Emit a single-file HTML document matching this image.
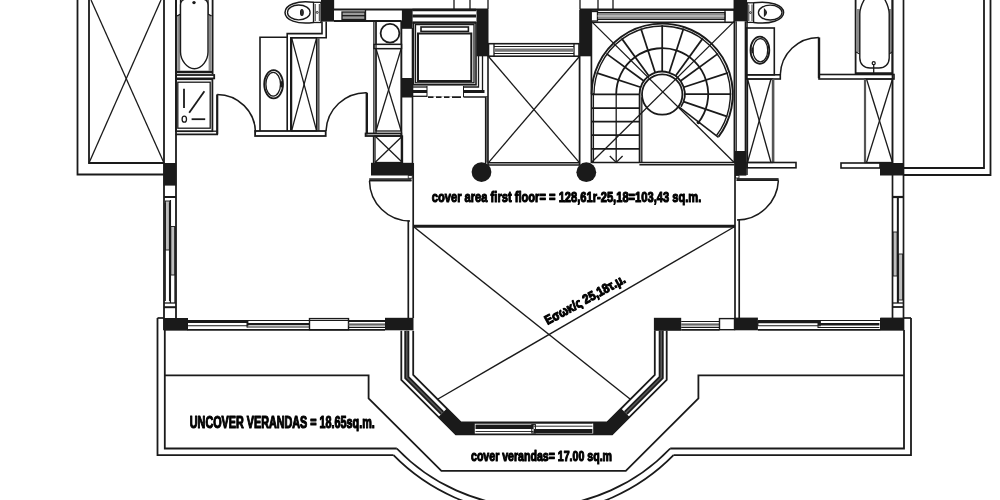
<!DOCTYPE html>
<html><head><meta charset="utf-8"><style>
html,body{margin:0;padding:0;background:#fff;width:1000px;height:500px;overflow:hidden;}
svg{display:block;filter:grayscale(1);}
</style></head><body>
<svg width="1000" height="500" viewBox="0 0 1000 500" shape-rendering="geometricPrecision">
<rect width="1000" height="500" fill="#fff"/>
<polyline points="77.5,0 77.5,174.5 164,174.5" fill="none" stroke="#1a1a1a" stroke-width="1.8" stroke-linejoin="miter"/>
<polyline points="89,0 89,163 164,163" fill="none" stroke="#1a1a1a" stroke-width="1.8" stroke-linejoin="miter"/>
<line x1="91" y1="0" x2="164" y2="163" stroke="#1a1a1a" stroke-width="1.3"/>
<line x1="161" y1="0" x2="89" y2="163" stroke="#1a1a1a" stroke-width="1.3"/>
<line x1="164" y1="0" x2="164" y2="330" stroke="#1a1a1a" stroke-width="1.8"/>
<line x1="176" y1="0" x2="176" y2="318" stroke="#1a1a1a" stroke-width="1.8"/>
<rect x="163.6" y="163" width="12.599999999999994" height="22.599999999999994" fill="#1a1a1a"/>
<line x1="164" y1="197" x2="176" y2="197" stroke="#1a1a1a" stroke-width="2"/>
<rect x="165.4" y="201" width="4.0" height="49" fill="#bdbdbd" stroke="#1a1a1a" stroke-width="0.9099999999999999"/>
<rect x="170.8" y="226.5" width="4.199999999999989" height="48.5" fill="#bdbdbd" stroke="#1a1a1a" stroke-width="0.9099999999999999"/>
<line x1="165.2" y1="203" x2="165.2" y2="301" stroke="#1a1a1a" stroke-width="1.3"/>
<line x1="169.6" y1="203" x2="169.6" y2="301" stroke="#1a1a1a" stroke-width="1.3"/>
<line x1="170.4" y1="200" x2="170.4" y2="303" stroke="#1a1a1a" stroke-width="1.3"/>
<line x1="175" y1="227" x2="175" y2="303" stroke="#1a1a1a" stroke-width="1.3"/>
<line x1="164" y1="303" x2="176" y2="303" stroke="#1a1a1a" stroke-width="1.3"/>
<line x1="164" y1="307.2" x2="176" y2="307.2" stroke="#1a1a1a" stroke-width="2.0"/>
<rect x="163.6" y="318" width="24.400000000000006" height="12.5" fill="#1a1a1a"/>
<line x1="176" y1="0" x2="176" y2="74" stroke="#1a1a1a" stroke-width="1.8"/>
<line x1="212.6" y1="0" x2="212.6" y2="74" stroke="#1a1a1a" stroke-width="1.8"/>
<line x1="176" y1="72" x2="212.6" y2="72" stroke="#1a1a1a" stroke-width="2.4"/>
<rect x="177.2" y="15" width="3.0" height="56" fill="#8a8a8a"/>
<rect x="208.6" y="15" width="3.0" height="56" fill="#8a8a8a"/>
<path d="M180.5,-2 L180.5,14 L177,16 M208,-2 L208,14 L211.6,16" fill="none" stroke="#1a1a1a" stroke-width="1.3"/>
<path d="M184,-0.5 Q180.5,0.5 180.5,5 L180.5,52 C180.5,60 187,68.8 194.4,68.8 C202,68.8 208,60 208,52 L208,5 Q208,0.5 204.5,-0.5" fill="#fff" stroke="#1a1a1a" stroke-width="1.4000000000000001"/>
<circle cx="194" cy="2.6" r="1.7" fill="#1a1a1a" stroke="#1a1a1a" stroke-width="0"/>
<rect x="176" y="75" width="38.19999999999999" height="3.4000000000000057" fill="none" stroke="#1a1a1a" stroke-width="1.8"/>
<rect x="176" y="79.2" width="36.400000000000006" height="51.999999999999986" fill="none" stroke="#1a1a1a" stroke-width="1.8"/>
<rect x="177.8" y="82.2" width="32.39999999999998" height="45.999999999999986" fill="none" stroke="#1a1a1a" stroke-width="1.3"/>
<line x1="184" y1="88.8" x2="184" y2="108" stroke="#1a1a1a" stroke-width="1.8"/>
<line x1="189.2" y1="112.8" x2="204.4" y2="91.2" stroke="#1a1a1a" stroke-width="1.8"/>
<ellipse cx="184.3" cy="119.2" rx="2.2" ry="3" fill="none" stroke="#1a1a1a" stroke-width="1.3"/>
<line x1="191.6" y1="119.2" x2="205.2" y2="119.2" stroke="#1a1a1a" stroke-width="1.8"/>
<line x1="175.6" y1="134.4" x2="218" y2="134.4" stroke="#1a1a1a" stroke-width="1.8"/>
<line x1="212.4" y1="131.2" x2="218" y2="131.2" stroke="#1a1a1a" stroke-width="1.3"/>
<line x1="217.2" y1="94.4" x2="217.2" y2="134.4" stroke="#1a1a1a" stroke-width="2.2"/>
<path d="M217.2,94.4 A38.5,38.5 0 0 1 255.5,132.5" fill="none" stroke="#1a1a1a" stroke-width="1.5"/>
<path d="M313.5,2.3 C297,0 285,5 285,12.4 C285,19.8 297,24.8 313.5,22.5" fill="none" stroke="#1a1a1a" stroke-width="1.5"/>
<ellipse cx="298.8" cy="12.4" rx="11.3" ry="7.4" fill="none" stroke="#1a1a1a" stroke-width="1.3"/>
<ellipse cx="301.9" cy="12.4" rx="1.4" ry="3.0" fill="#333" stroke="#1a1a1a" stroke-width="1.04"/>
<rect x="313.5" y="2.3" width="7.5" height="20.2" fill="none" stroke="#1a1a1a" stroke-width="1.3"/>
<line x1="315.2" y1="4" x2="315.2" y2="21" stroke="#1a1a1a" stroke-width="0.9099999999999999"/>
<line x1="319.3" y1="4" x2="319.3" y2="21" stroke="#1a1a1a" stroke-width="0.9099999999999999"/>
<circle cx="317.2" cy="12.4" r="1" fill="none" stroke="#1a1a1a" stroke-width="0.9099999999999999"/>
<rect x="321" y="0" width="13" height="21.6" fill="#1a1a1a"/>
<polyline points="287.2,130.9 287.2,33.6 322,33.6 322,21.6" fill="none" stroke="#1a1a1a" stroke-width="1.6" stroke-linejoin="miter"/>
<polyline points="290.8,130.9 290.8,37.8 326.2,37.8 326.2,21.6" fill="none" stroke="#1a1a1a" stroke-width="1.6" stroke-linejoin="miter"/>
<polyline points="287.2,37.2 260,37.2 260,131" fill="none" stroke="#1a1a1a" stroke-width="1.6" stroke-linejoin="miter"/>
<ellipse cx="273.6" cy="84.3" rx="9.4" ry="14.1" fill="none" stroke="#1a1a1a" stroke-width="1.8"/>
<ellipse cx="273.2" cy="84.3" rx="7.3" ry="11.9" fill="none" stroke="#1a1a1a" stroke-width="1.3"/>
<ellipse cx="281.2" cy="84.3" rx="1.2" ry="3.2" fill="#1a1a1a" stroke="#1a1a1a" stroke-width="0"/>
<rect x="291.6" y="37.8" width="25.0" height="93.10000000000001" fill="none" stroke="#1a1a1a" stroke-width="1.3"/>
<line x1="318.4" y1="37.8" x2="318.4" y2="130.9" stroke="#555" stroke-width="2.4"/>
<line x1="291.6" y1="37.8" x2="316.6" y2="130.9" stroke="#1a1a1a" stroke-width="1.3"/>
<line x1="316.6" y1="37.8" x2="291.6" y2="130.9" stroke="#1a1a1a" stroke-width="1.3"/>
<rect x="255.1" y="131" width="70.6" height="5" fill="none" stroke="#1a1a1a" stroke-width="1.8"/>
<line x1="366.8" y1="92.7" x2="366.8" y2="134.3" stroke="#1a1a1a" stroke-width="2.4"/>
<path d="M366.8,92.7 A40,40 0 0 0 326,131" fill="none" stroke="#1a1a1a" stroke-width="1.5"/>
<rect x="365.6" y="133.5" width="35.69999999999999" height="2.5" fill="none" stroke="#1a1a1a" stroke-width="1.8"/>
<line x1="333.5" y1="0" x2="333.5" y2="9.5" stroke="#1a1a1a" stroke-width="1.3"/>
<line x1="333.5" y1="9.5" x2="488" y2="9.5" stroke="#1a1a1a" stroke-width="1.8"/>
<line x1="334" y1="21" x2="401.5" y2="21" stroke="#1a1a1a" stroke-width="1.8"/>
<rect x="342" y="12" width="23" height="7.5" fill="#9a9a9a" stroke="#1a1a1a" stroke-width="1.3"/>
<line x1="342" y1="15.7" x2="365" y2="15.7" stroke="#1a1a1a" stroke-width="1.3"/>
<line x1="365.5" y1="10" x2="365.5" y2="21" stroke="#1a1a1a" stroke-width="1.3"/>
<line x1="454" y1="0" x2="454" y2="9.5" stroke="#1a1a1a" stroke-width="1.3"/>
<line x1="470" y1="0" x2="470" y2="9.5" stroke="#1a1a1a" stroke-width="1.3"/>
<line x1="488" y1="0" x2="488" y2="9.5" stroke="#1a1a1a" stroke-width="1.3"/>
<rect x="401.9" y="9.75" width="10.700000000000045" height="19.05" fill="#1a1a1a"/>
<line x1="373.9" y1="21.3" x2="373.9" y2="133.5" stroke="#1a1a1a" stroke-width="1.3"/>
<line x1="376" y1="21.3" x2="376" y2="133.5" stroke="#1a1a1a" stroke-width="1.3"/>
<rect x="376" y="21.3" width="25.19999999999999" height="23.099999999999998" fill="none" stroke="#1a1a1a" stroke-width="1.3"/>
<circle cx="390" cy="33.2" r="9.4" fill="none" stroke="#1a1a1a" stroke-width="1.8"/>
<rect x="374" y="44.4" width="27.600000000000023" height="4.200000000000003" fill="none" stroke="#1a1a1a" stroke-width="1.3"/>
<rect x="376" y="48.6" width="25.19999999999999" height="82.4" fill="none" stroke="#1a1a1a" stroke-width="1.3"/>
<line x1="376" y1="48.6" x2="401.2" y2="131" stroke="#1a1a1a" stroke-width="1.3"/>
<line x1="401.2" y1="48.6" x2="376" y2="131" stroke="#1a1a1a" stroke-width="1.3"/>
<line x1="401.5" y1="21" x2="401.5" y2="175" stroke="#1a1a1a" stroke-width="1.6"/>
<line x1="412.5" y1="28" x2="412.5" y2="175" stroke="#1a1a1a" stroke-width="1.6"/>
<rect x="401.5" y="78" width="11.199999999999989" height="19.5" fill="#1a1a1a"/>
<rect x="375" y="136" width="27.5" height="26.5" fill="none" stroke="#1a1a1a" stroke-width="1.3"/>
<line x1="375" y1="136" x2="402.5" y2="162.5" stroke="#1a1a1a" stroke-width="1.3"/>
<line x1="402.5" y1="136" x2="375" y2="162.5" stroke="#1a1a1a" stroke-width="1.3"/>
<line x1="373.5" y1="136" x2="373.5" y2="163" stroke="#1a1a1a" stroke-width="1.3"/>
<rect x="371" y="162.8" width="42" height="12.699999999999989" fill="#1a1a1a"/>
<rect x="369.2" y="178.2" width="42.30000000000001" height="3.1000000000000227" fill="#3a3a3a"/>
<line x1="369.2" y1="180.6" x2="411.5" y2="180.6" stroke="#1a1a1a" stroke-width="1.4"/>
<rect x="408.2" y="175.6" width="4.0" height="2.5999999999999943" fill="none" stroke="#1a1a1a" stroke-width="0.8"/>
<path d="M369.5,181 A40.5,40.5 0 0 0 410,221" fill="none" stroke="#1a1a1a" stroke-width="1.5"/>
<line x1="412.4" y1="10" x2="476" y2="10" stroke="#1a1a1a" stroke-width="2.4"/>
<line x1="412.4" y1="16" x2="476" y2="16" stroke="#1a1a1a" stroke-width="2.8"/>
<line x1="412.4" y1="22.6" x2="476" y2="22.6" stroke="#1a1a1a" stroke-width="2.4"/>
<rect x="413.5" y="22.6" width="62.5" height="62.199999999999996" fill="none" stroke="#1a1a1a" stroke-width="1.6"/>
<rect x="415.5" y="24.6" width="58.5" height="58.199999999999996" fill="none" stroke="#1a1a1a" stroke-width="1.3"/>
<rect x="421" y="27" width="47.39999999999998" height="4.399999999999999" fill="none" stroke="#1a1a1a" stroke-width="1.6"/>
<rect x="418" y="33.5" width="53.30000000000001" height="47.5" fill="none" stroke="#1a1a1a" stroke-width="2"/>
<rect x="476.5" y="9.75" width="12.0" height="46.55" fill="#1a1a1a"/>
<polyline points="478.5,56 478.5,87 463.5,87" fill="none" stroke="#1a1a1a" stroke-width="1.3" stroke-linejoin="miter"/>
<line x1="482.5" y1="56" x2="482.5" y2="90" stroke="#1a1a1a" stroke-width="1.3"/>
<line x1="463.5" y1="97" x2="488" y2="97" stroke="#1a1a1a" stroke-width="1.5"/>
<line x1="412.5" y1="87" x2="427" y2="87" stroke="#1a1a1a" stroke-width="1.3"/>
<rect x="412.5" y="90" width="14.5" height="3" fill="#1a1a1a"/>
<line x1="412.5" y1="96.3" x2="427" y2="96.3" stroke="#1a1a1a" stroke-width="1.3"/>
<line x1="427" y1="86" x2="427" y2="97" stroke="#1a1a1a" stroke-width="1.04"/>
<rect x="463.5" y="90" width="21.0" height="3" fill="#1a1a1a"/>
<line x1="463.5" y1="86" x2="463.5" y2="97" stroke="#1a1a1a" stroke-width="1.04"/>
<path d="M428,97.2 L461,97.2" fill="none" stroke="#1a1a1a" stroke-width="1.8"/>
<line x1="428" y1="97.2" x2="461" y2="97.2" stroke="#fff" stroke-width="2" stroke-dasharray="0 5.5 2.5 5.5 2.5 5.5 2.5 5.5"/>
<rect x="485.6" y="97" width="2.3999999999999773" height="65.6" fill="#888"/>
<line x1="485.6" y1="97" x2="485.6" y2="165" stroke="#1a1a1a" stroke-width="1.4000000000000001"/>
<line x1="488" y1="56" x2="488" y2="165" stroke="#1a1a1a" stroke-width="1.6"/>
<rect x="488.5" y="43.7" width="90.5" height="12.5" fill="none" stroke="#1a1a1a" stroke-width="1.6"/>
<line x1="494" y1="43.7" x2="494" y2="56.2" stroke="#1a1a1a" stroke-width="1.3"/>
<line x1="574" y1="43.7" x2="574" y2="56.2" stroke="#1a1a1a" stroke-width="1.3"/>
<rect x="494" y="48.5" width="80" height="3.299999999999997" fill="#777"/>
<line x1="494" y1="46.4" x2="574" y2="46.4" stroke="#1a1a1a" stroke-width="1.04"/>
<line x1="494" y1="53.6" x2="574" y2="53.6" stroke="#1a1a1a" stroke-width="1.04"/>
<line x1="579.6" y1="56" x2="579.6" y2="165" stroke="#1a1a1a" stroke-width="1.8"/>
<line x1="488" y1="162.8" x2="579.6" y2="162.8" stroke="#1a1a1a" stroke-width="1.6"/>
<line x1="488" y1="165" x2="579.6" y2="165" stroke="#1a1a1a" stroke-width="1.6"/>
<line x1="488.5" y1="56.5" x2="579.4" y2="162.6" stroke="#1a1a1a" stroke-width="1.3"/>
<line x1="579.4" y1="56.5" x2="488.5" y2="162.6" stroke="#1a1a1a" stroke-width="1.3"/>
<circle cx="481.5" cy="172.1" r="9.9" fill="#1a1a1a" stroke="#1a1a1a" stroke-width="0"/>
<circle cx="586.3" cy="172.2" r="9.9" fill="#1a1a1a" stroke="#1a1a1a" stroke-width="0"/>
<line x1="580" y1="0" x2="580" y2="9.5" stroke="#1a1a1a" stroke-width="1.3"/>
<line x1="598" y1="0" x2="598" y2="9.5" stroke="#1a1a1a" stroke-width="1.3"/>
<line x1="613" y1="0" x2="613" y2="9.5" stroke="#1a1a1a" stroke-width="1.3"/>
<line x1="580" y1="9.5" x2="734.4" y2="9.5" stroke="#1a1a1a" stroke-width="1.8"/>
<rect x="579.2" y="9.75" width="11.799999999999955" height="46.55" fill="#1a1a1a"/>
<rect x="591" y="10" width="143.39999999999998" height="12.3" fill="none" stroke="#1a1a1a" stroke-width="1.6"/>
<rect x="591" y="11.5" width="6.5" height="9.5" fill="none" stroke="#1a1a1a" stroke-width="1.3"/>
<rect x="597.5" y="12.5" width="127.5" height="7.0" fill="#8c8c8c" stroke="#1a1a1a" stroke-width="1.04"/>
<line x1="597.5" y1="16" x2="725" y2="16" stroke="#ddd" stroke-width="1.04"/>
<line x1="725" y1="10" x2="725" y2="22.3" stroke="#1a1a1a" stroke-width="1.3"/>
<line x1="591.4" y1="21.4" x2="591.4" y2="163" stroke="#1a1a1a" stroke-width="1.7000000000000002"/>
<line x1="593.4" y1="93" x2="593.4" y2="163" stroke="#1a1a1a" stroke-width="1.3"/>
<line x1="734.4" y1="0" x2="734.4" y2="163" stroke="#1a1a1a" stroke-width="1.7000000000000002"/>
<line x1="736.2" y1="21.3" x2="736.2" y2="151" stroke="#1a1a1a" stroke-width="1.3"/>
<line x1="591.4" y1="162.5" x2="734.4" y2="162.5" stroke="#1a1a1a" stroke-width="1.6"/>
<line x1="639.4" y1="164.8" x2="734.4" y2="164.8" stroke="#1a1a1a" stroke-width="1.6"/>
<line x1="591.4" y1="21.4" x2="734.2" y2="162.5" stroke="#1a1a1a" stroke-width="1.3"/>
<line x1="734.2" y1="21.4" x2="591.4" y2="162.5" stroke="#1a1a1a" stroke-width="1.3"/>
<path d="M591.60,94.20 A70.6,70.6 0 1 1 718.58,136.69" fill="none" stroke="#1a1a1a" stroke-width="1.9"/>
<path d="M594.00,94.20 A68.2,68.2 0 1 1 716.67,135.24" fill="none" stroke="#1a1a1a" stroke-width="1.4000000000000001"/>
<path d="M616.20,94.20 A46,46 0 1 1 698.45,122.52" fill="none" stroke="#1a1a1a" stroke-width="1.8"/>
<circle cx="662.2" cy="94.5" r="20.2" fill="none" stroke="#1a1a1a" stroke-width="1.8"/>
<path d="M639.60,94.20 A22.6,22.6 0 1 1 680.94,106.84" fill="none" stroke="#1a1a1a" stroke-width="1.8"/>
<line x1="640.71" y1="87.22" x2="596.58" y2="72.88" stroke="#1a1a1a" stroke-width="1.75"/>
<line x1="643.92" y1="80.92" x2="606.38" y2="53.64" stroke="#1a1a1a" stroke-width="1.75"/>
<line x1="648.92" y1="75.92" x2="621.64" y2="38.38" stroke="#1a1a1a" stroke-width="1.75"/>
<line x1="655.22" y1="72.71" x2="640.88" y2="28.58" stroke="#1a1a1a" stroke-width="1.75"/>
<line x1="662.2" y1="71.6" x2="662.2" y2="25.2" stroke="#1a1a1a" stroke-width="1.75"/>
<line x1="669.18" y1="72.71" x2="683.52" y2="28.58" stroke="#1a1a1a" stroke-width="1.75"/>
<line x1="675.48" y1="75.92" x2="702.76" y2="38.38" stroke="#1a1a1a" stroke-width="1.75"/>
<line x1="680.48" y1="80.92" x2="718.02" y2="53.64" stroke="#1a1a1a" stroke-width="1.75"/>
<line x1="683.69" y1="87.22" x2="727.82" y2="72.88" stroke="#1a1a1a" stroke-width="1.75"/>
<line x1="684.8" y1="94.2" x2="731.2" y2="94.2" stroke="#1a1a1a" stroke-width="1.75"/>
<line x1="683.57" y1="101.56" x2="727.44" y2="116.66" stroke="#1a1a1a" stroke-width="1.75"/>
<line x1="678.86" y1="106.98" x2="718.53" y2="137.42" stroke="#1a1a1a" stroke-width="1.6"/>
<line x1="639.6" y1="94.2" x2="639.6" y2="163" stroke="#1a1a1a" stroke-width="1.8"/>
<line x1="641.8" y1="97.2" x2="641.8" y2="163" stroke="#1a1a1a" stroke-width="1.3"/>
<line x1="591.4" y1="94.4" x2="639.6" y2="94.4" stroke="#1a1a1a" stroke-width="1.75"/>
<line x1="591.4" y1="108" x2="639.6" y2="108" stroke="#1a1a1a" stroke-width="1.75"/>
<line x1="591.4" y1="121.6" x2="639.6" y2="121.6" stroke="#1a1a1a" stroke-width="1.75"/>
<line x1="591.4" y1="135.2" x2="639.6" y2="135.2" stroke="#1a1a1a" stroke-width="1.75"/>
<line x1="591.4" y1="148.8" x2="639.6" y2="148.8" stroke="#1a1a1a" stroke-width="1.75"/>
<line x1="616.2" y1="94.2" x2="616.2" y2="162.4" stroke="#1a1a1a" stroke-width="1.3"/>
<polyline points="609.8,156 616.2,162.4 622.6,156" fill="none" stroke="#1a1a1a" stroke-width="1.3" stroke-linejoin="miter"/>
<circle cx="698.45" cy="122.52" r="1.8" fill="#1a1a1a" stroke="#1a1a1a" stroke-width="0"/>
<line x1="745.4" y1="21.3" x2="745.4" y2="151" stroke="#1a1a1a" stroke-width="1.5"/>
<line x1="747" y1="21.3" x2="747" y2="175" stroke="#1a1a1a" stroke-width="1.5"/>
<rect x="734.4" y="0" width="12.700000000000045" height="21.3" fill="#1a1a1a"/>
<rect x="735" y="151" width="11.399999999999977" height="24.599999999999994" fill="#1a1a1a"/>
<rect x="747.2" y="2.8" width="6.399999999999977" height="19.599999999999998" fill="none" stroke="#1a1a1a" stroke-width="1.3"/>
<line x1="748.8" y1="4.5" x2="748.8" y2="21" stroke="#1a1a1a" stroke-width="0.9099999999999999"/>
<line x1="752" y1="4.5" x2="752" y2="21" stroke="#1a1a1a" stroke-width="0.9099999999999999"/>
<circle cx="750.4" cy="12.6" r="0.9" fill="none" stroke="#1a1a1a" stroke-width="0.9099999999999999"/>
<path d="M753.6,2.8 C770,0.5 783.6,5 783.6,12.6 C783.6,20.2 770,24.7 753.6,22.4" fill="none" stroke="#1a1a1a" stroke-width="1.5"/>
<ellipse cx="770.2" cy="12.6" rx="11.8" ry="7.4" fill="none" stroke="#1a1a1a" stroke-width="1.3"/>
<path d="M764.4,9.2 Q768.6,12.6 764.4,16 Z" fill="#333" stroke="#1a1a1a" stroke-width="1.04"/>
<rect x="746.3" y="28" width="28.0" height="46.8" fill="none" stroke="#1a1a1a" stroke-width="1.6"/>
<ellipse cx="759.9" cy="50.2" rx="9.4" ry="13.6" fill="none" stroke="#1a1a1a" stroke-width="1.8"/>
<ellipse cx="760.3" cy="50.2" rx="7.4" ry="11.6" fill="none" stroke="#1a1a1a" stroke-width="1.3"/>
<ellipse cx="752.4" cy="50.2" rx="1.2" ry="3.0" fill="#1a1a1a" stroke="#1a1a1a" stroke-width="0"/>
<rect x="746.3" y="74.8" width="34.0" height="4.200000000000003" fill="none" stroke="#1a1a1a" stroke-width="1.6"/>
<rect x="747.5" y="79" width="25.0" height="83.5" fill="none" stroke="#1a1a1a" stroke-width="1.3"/>
<line x1="747.5" y1="79" x2="771" y2="162.5" stroke="#1a1a1a" stroke-width="1.3"/>
<line x1="771" y1="79" x2="747.5" y2="162.5" stroke="#1a1a1a" stroke-width="1.3"/>
<line x1="773.2" y1="79" x2="773.2" y2="162.5" stroke="#555" stroke-width="2.4"/>
<rect x="747" y="162.5" width="49" height="5.300000000000011" fill="none" stroke="#1a1a1a" stroke-width="1.6"/>
<line x1="819" y1="37.4" x2="819" y2="78.2" stroke="#1a1a1a" stroke-width="2.4"/>
<path d="M780.3,74.8 A38.5,38.5 0 0 1 818.8,37.4" fill="none" stroke="#1a1a1a" stroke-width="1.5"/>
<rect x="819" y="74.5" width="75" height="4.5" fill="none" stroke="#1a1a1a" stroke-width="1.6"/>
<rect x="736.6" y="178" width="42.0" height="3" fill="#3a3a3a"/>
<line x1="736.6" y1="180.3" x2="778.6" y2="180.3" stroke="#1a1a1a" stroke-width="1.4"/>
<rect x="735.4" y="175.6" width="3.6000000000000227" height="2.4000000000000057" fill="none" stroke="#1a1a1a" stroke-width="0.8"/>
<path d="M778.4,180.6 A41.5,41.5 0 0 1 737,220" fill="none" stroke="#1a1a1a" stroke-width="1.5"/>
<line x1="855.6" y1="0" x2="855.6" y2="74.5" stroke="#1a1a1a" stroke-width="1.8"/>
<line x1="892.4" y1="0" x2="892.4" y2="74.5" stroke="#1a1a1a" stroke-width="1.8"/>
<line x1="855.6" y1="73.4" x2="892.4" y2="73.4" stroke="#1a1a1a" stroke-width="2.2"/>
<rect x="856.8" y="9" width="3.0" height="43" fill="#8a8a8a"/>
<rect x="888.8" y="9" width="3.0" height="43" fill="#8a8a8a"/>
<path d="M856,52 L859.8,54 M892,52 L889,54" fill="none" stroke="#1a1a1a" stroke-width="1.3"/>
<path d="M865.2,-2 C861,5 859.8,10 859.8,14 L859.8,58 C859.8,64 864,68 870,68 L879,68 C885,68 889.2,64 889.2,58 L889.2,14 C889.2,10 888,5 884,-2" fill="#fff" stroke="#1a1a1a" stroke-width="1.4000000000000001"/>
<circle cx="873.7" cy="63.2" r="1.5" fill="none" stroke="#1a1a1a" stroke-width="1.3"/>
<line x1="873.7" y1="65" x2="873.7" y2="73" stroke="#1a1a1a" stroke-width="1.3"/>
<rect x="865" y="79" width="27.5" height="83.5" fill="none" stroke="#1a1a1a" stroke-width="1.3"/>
<line x1="866.5" y1="79" x2="892.5" y2="162.5" stroke="#1a1a1a" stroke-width="1.3"/>
<line x1="892.5" y1="79" x2="866.5" y2="162.5" stroke="#1a1a1a" stroke-width="1.3"/>
<line x1="865" y1="79" x2="865" y2="162.5" stroke="#555" stroke-width="2.2"/>
<rect x="841" y="163" width="39" height="5" fill="none" stroke="#1a1a1a" stroke-width="1.6"/>
<line x1="892.5" y1="0" x2="892.5" y2="318" stroke="#1a1a1a" stroke-width="1.7000000000000002"/>
<line x1="903.5" y1="0" x2="903.5" y2="330" stroke="#1a1a1a" stroke-width="1.7000000000000002"/>
<rect x="880" y="163" width="23.799999999999955" height="12.5" fill="#1a1a1a"/>
<line x1="892.5" y1="197" x2="903.5" y2="197" stroke="#1a1a1a" stroke-width="2.2"/>
<rect x="893.2" y="232" width="4.0" height="44" fill="#bdbdbd" stroke="#1a1a1a" stroke-width="0.9099999999999999"/>
<rect x="898.6" y="254" width="4.0" height="46" fill="#bdbdbd" stroke="#1a1a1a" stroke-width="0.9099999999999999"/>
<line x1="897.5" y1="198" x2="897.5" y2="303" stroke="#1a1a1a" stroke-width="1.3"/>
<line x1="898.2" y1="198" x2="898.2" y2="303" stroke="#1a1a1a" stroke-width="1.3"/>
<line x1="892.5" y1="303" x2="903.5" y2="303" stroke="#1a1a1a" stroke-width="1.3"/>
<line x1="892.5" y1="307" x2="903.5" y2="307" stroke="#1a1a1a" stroke-width="1.8"/>
<rect x="880" y="318" width="24" height="12.5" fill="#1a1a1a"/>
<polyline points="903.5,168 984,168 984,0" fill="none" stroke="#1a1a1a" stroke-width="1.8" stroke-linejoin="miter"/>
<polyline points="903.5,175 990.5,175 990.5,0" fill="none" stroke="#1a1a1a" stroke-width="1.8" stroke-linejoin="miter"/>
<line x1="413.2" y1="163" x2="413.2" y2="318" stroke="#1a1a1a" stroke-width="1.7000000000000002"/>
<line x1="408.3" y1="220.5" x2="408.3" y2="318" stroke="#1a1a1a" stroke-width="1.7000000000000002"/>
<line x1="413" y1="226.3" x2="735" y2="226.3" stroke="#1a1a1a" stroke-width="3"/>
<line x1="735" y1="163" x2="735" y2="318" stroke="#1a1a1a" stroke-width="1.7000000000000002"/>
<line x1="739.2" y1="219.6" x2="739.2" y2="318" stroke="#1a1a1a" stroke-width="1.7000000000000002"/>
<line x1="414" y1="227" x2="630" y2="399" stroke="#1a1a1a" stroke-width="1.4000000000000001"/>
<line x1="734" y1="227" x2="438" y2="399" stroke="#1a1a1a" stroke-width="1.4000000000000001"/>
<rect x="163.8" y="318" width="23.5" height="12.300000000000011" fill="#1a1a1a"/>
<line x1="187.3" y1="320.5" x2="385" y2="320.5" stroke="#1a1a1a" stroke-width="1.04"/>
<line x1="187.3" y1="321.8" x2="248.4" y2="321.8" stroke="#1a1a1a" stroke-width="2.2"/>
<line x1="187.3" y1="325.8" x2="248.4" y2="325.8" stroke="#1a1a1a" stroke-width="1.04"/>
<line x1="187.3" y1="320.5" x2="187.3" y2="326" stroke="#1a1a1a" stroke-width="1.04"/>
<line x1="247" y1="324.2" x2="309.5" y2="324.2" stroke="#1a1a1a" stroke-width="2.2"/>
<line x1="247" y1="327" x2="309.5" y2="327" stroke="#1a1a1a" stroke-width="1.04"/>
<line x1="247" y1="322" x2="247" y2="327.5" stroke="#1a1a1a" stroke-width="1.04"/>
<line x1="309.5" y1="322" x2="309.5" y2="327.5" stroke="#1a1a1a" stroke-width="1.04"/>
<rect x="309.5" y="318.6" width="39.0" height="11.099999999999966" fill="none" stroke="#1a1a1a" stroke-width="1.4000000000000001"/>
<line x1="348.5" y1="321.5" x2="385" y2="321.5" stroke="#1a1a1a" stroke-width="1.1700000000000002"/>
<rect x="348.5" y="323.4" width="36.5" height="2.2000000000000455" fill="#666"/>
<line x1="348.5" y1="327.3" x2="385" y2="327.3" stroke="#1a1a1a" stroke-width="1.1700000000000002"/>
<line x1="187.3" y1="329.8" x2="385" y2="329.8" stroke="#1a1a1a" stroke-width="1.7000000000000002"/>
<rect x="385" y="317.8" width="28.5" height="12.5" fill="#1a1a1a"/>
<rect x="734.5" y="317.6" width="23.399999999999977" height="12.699999999999989" fill="#1a1a1a"/>
<line x1="757.9" y1="320.5" x2="880.3" y2="320.5" stroke="#1a1a1a" stroke-width="1.04"/>
<line x1="757.9" y1="322.1" x2="820.9" y2="322.1" stroke="#1a1a1a" stroke-width="2.2"/>
<line x1="757.9" y1="325.7" x2="820.9" y2="325.7" stroke="#1a1a1a" stroke-width="1.04"/>
<line x1="757.9" y1="321" x2="757.9" y2="326" stroke="#1a1a1a" stroke-width="1.04"/>
<line x1="818" y1="324.3" x2="879.4" y2="324.3" stroke="#1a1a1a" stroke-width="2.4"/>
<line x1="818" y1="327.5" x2="879.4" y2="327.5" stroke="#1a1a1a" stroke-width="1.04"/>
<line x1="818" y1="322" x2="818" y2="328" stroke="#1a1a1a" stroke-width="1.04"/>
<line x1="757.9" y1="329.8" x2="880.3" y2="329.8" stroke="#1a1a1a" stroke-width="1.7000000000000002"/>
<rect x="880.3" y="317.6" width="23.700000000000045" height="12.699999999999989" fill="#1a1a1a"/>
<rect x="653.9" y="317.8" width="27.300000000000068" height="13.0" fill="#1a1a1a"/>
<line x1="681.2" y1="321.5" x2="719.5" y2="321.5" stroke="#1a1a1a" stroke-width="1.1700000000000002"/>
<rect x="681.2" y="323.4" width="38.299999999999955" height="2.2000000000000455" fill="#666"/>
<line x1="681.2" y1="327.3" x2="719.5" y2="327.3" stroke="#1a1a1a" stroke-width="1.1700000000000002"/>
<rect x="719.5" y="318.6" width="15.0" height="11.099999999999966" fill="none" stroke="#1a1a1a" stroke-width="1.4000000000000001"/>
<line x1="681.2" y1="329.8" x2="719.5" y2="329.8" stroke="#1a1a1a" stroke-width="1.7000000000000002"/>
<polyline points="401.3,330.8 401.3,379.8 455.9,434.4 612.1,434.4 666.7,379.8 666.7,330.8" fill="none" stroke="#1a1a1a" stroke-width="1.8" stroke-linejoin="miter"/>
<polyline points="413.2,330.8 413.2,374.87 460.83,422.5 607.17,422.5 654.8,374.87 654.8,330.8" fill="none" stroke="#1a1a1a" stroke-width="1.8" stroke-linejoin="miter"/>
<polyline points="406.8,330.8 406.8,377.52 442.29,413.01" fill="none" stroke="#1c1c1c" stroke-width="5.0" stroke-linejoin="miter"/>
<polyline points="661.2,330.8 661.2,377.52 625.71,413.01" fill="none" stroke="#1c1c1c" stroke-width="5.0" stroke-linejoin="miter"/>
<polyline points="406.8,330.8 406.8,377.52 442.29,413.01" fill="none" stroke="#555" stroke-width="1.6" stroke-linejoin="miter"/>
<polyline points="661.2,330.8 661.2,377.52 625.71,413.01" fill="none" stroke="#555" stroke-width="1.6" stroke-linejoin="miter"/>
<polygon points="438.4,416.9 455.9,434.4 474.8,434.4 474.8,422.5 460.8,422.5 446.8,408.5" fill="#1a1a1a"/>
<polygon points="629.6,416.9 612.1,434.4 593.2,434.4 593.2,422.5 607.2,422.5 621.2,408.5" fill="#1a1a1a"/>
<line x1="474.8" y1="422.7" x2="592.3" y2="422.7" stroke="#1a1a1a" stroke-width="1.6"/>
<rect x="475.5" y="424.6" width="58.10000000000002" height="4.399999999999977" fill="#1a1a1a"/>
<line x1="475.5" y1="431.5" x2="533.6" y2="431.5" stroke="#1a1a1a" stroke-width="0.9099999999999999"/>
<rect x="533.6" y="429" width="58.799999999999955" height="4.199999999999989" fill="#1a1a1a"/>
<line x1="533.6" y1="426.2" x2="592.4" y2="426.2" stroke="#1a1a1a" stroke-width="0.9099999999999999"/>
<rect x="531.8" y="424.6" width="3.6000000000000227" height="8.399999999999977" fill="none" stroke="#1a1a1a" stroke-width="1.04"/>
<polyline points="157.5,318 164,318" fill="none" stroke="#1a1a1a" stroke-width="1.7000000000000002" stroke-linejoin="miter"/>
<polyline points="157.5,318 157.5,455.2 393.5,455.2" fill="none" stroke="#1a1a1a" stroke-width="1.8" stroke-linejoin="miter"/>
<polyline points="164.8,330 164.8,448.5 396.8,448.5" fill="none" stroke="#1a1a1a" stroke-width="1.8" stroke-linejoin="miter"/>
<polyline points="911,318 903.5,318" fill="none" stroke="#1a1a1a" stroke-width="1.7000000000000002" stroke-linejoin="miter"/>
<polyline points="911,318 911,455.2 673.5,455.2" fill="none" stroke="#1a1a1a" stroke-width="1.8" stroke-linejoin="miter"/>
<polyline points="904,330 904,448.5 670.2,448.5" fill="none" stroke="#1a1a1a" stroke-width="1.8" stroke-linejoin="miter"/>
<path d="M396.8,448.5 A189,189 0 0 0 670.2,448.5" fill="none" stroke="#1a1a1a" stroke-width="1.8"/>
<path d="M393.5,455.2 A196,196 0 0 0 673.5,455.2" fill="none" stroke="#1a1a1a" stroke-width="1.8"/>
<polyline points="165,375.4 368.6,375.4 368.6,398.4 441.4,470.8 625.8,470.8 698.4,398.4 698.4,375.4 904,375.4" fill="none" stroke="#1a1a1a" stroke-width="1.8" stroke-linejoin="miter"/>
<text x="431.8" y="202.1" style="opacity:0.995;font-family:'Liberation Sans',sans-serif;font-weight:bold;fill:#000;stroke:#000;stroke-linejoin:round;font-size:15px;stroke-width:1.1px;" textLength="269.5" lengthAdjust="spacingAndGlyphs">cover area first floor= = 128,61r-25,18=103,43 sq.m.</text>
<text x="189.8" y="427.8" style="opacity:0.995;font-family:'Liberation Sans',sans-serif;font-weight:bold;fill:#000;stroke:#000;stroke-linejoin:round;font-size:16.5px;stroke-width:1.2px;" textLength="185" lengthAdjust="spacingAndGlyphs">UNCOVER VERANDAS = 18.65sq.m.</text>
<text x="471" y="460.5" style="opacity:0.995;font-family:'Liberation Sans',sans-serif;font-weight:bold;fill:#000;stroke:#000;stroke-linejoin:round;font-size:14px;stroke-width:1.1px;" textLength="141" lengthAdjust="spacingAndGlyphs">cover verandas= 17.00 sq.m</text>
<text x="0" y="0" transform="translate(547.5,325) rotate(-28.5)" style="opacity:0.995;font-family:'Liberation Sans',sans-serif;font-weight:bold;fill:#000;stroke:#000;stroke-linejoin:round;font-size:13px;stroke-width:1.1px;" textLength="90" lengthAdjust="spacingAndGlyphs">Εσωκ/ς 25,18τ.μ.</text>
</svg>
</body></html>
